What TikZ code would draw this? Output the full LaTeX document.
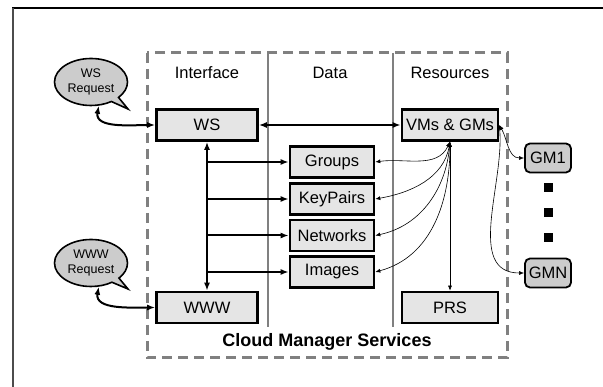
\documentclass[tikz,border=0pt]{standalone}
\usepackage{fontspec}
\setmainfont{Liberation Sans}
\usetikzlibrary{shapes.callouts,arrows.meta}

\begin{document}
\begin{tikzpicture}[x=1pt,y=1pt]
\tikzstyle{every node}+=[inner sep=0pt, font=\fontsize{16.5}{18}\selectfont]
\tikzstyle{svc}=[draw=black, line width=2.6pt, fill=black!10, minimum height=31pt]
\tikzstyle{gm}=[draw=black, line width=1.8pt, fill=black!20, rounded corners=5pt, minimum width=46pt, minimum height=29pt]
\tikzstyle{req}=[ellipse callout, draw=black, line width=1.6pt, fill=black!20, minimum width=73pt, minimum height=47pt, align=center, font=\fontsize{12.5}{15}\selectfont]
\tikzstyle{big link}=[line width=2pt, {Latex[length=8pt,width=6pt]}-{Latex[length=8pt,width=6pt]}]
\tikzstyle{bus link}=[line width=2pt, -{Latex[length=8pt,width=6pt]}]
\tikzstyle{thin link}=[line width=0.6pt, {Latex[length=5pt,width=4pt]}-{Latex[length=5pt,width=4pt]}]
\useasboundingbox (0,0) rectangle (603,-387);
% page frame
\draw [black, line width=1.2pt] (12,-8) -- (603,-8);
\draw [black!70, line width=1.2pt] (13,-8) -- (13,-387);
% services frame and columns
\draw [black!50, line width=3pt, dash pattern=on 10pt off 6pt] (147,-53) rectangle (507,-358);
\draw [black!50, line width=1.2pt] (268,-53) -- (268,-327);
\draw [black!50, line width=1.2pt] (393,-53) -- (393,-327);
\node (hif) at (207,-73) {Interface};
\node (hdata) at (330,-73) {Data};
\node (hres) at (450,-73) {Resources};
\node [font=\bfseries\fontsize{18}{20}\selectfont] (cms) at (327,-342) {Cloud Manager Services};
% interface
\node [svc, minimum width=101pt] (ws) at (207,-125) {WS};
\node [svc, minimum width=101pt] (www) at (207,-307.5) {WWW};
% data
\node [svc, minimum width=84pt] (grp) at (332,-162) {Groups};
\node [svc, minimum width=84pt] (key) at (332,-199) {KeyPairs};
\node [svc, minimum width=84pt] (net) at (332,-235.5) {Networks};
\node [svc, minimum width=84pt] (img) at (332,-272) {Images};
% resources
\node [svc, minimum width=96pt] (vms) at (450,-125) {VMs \& GMs};
\node [svc, minimum width=96pt] (prs) at (450,-307.5) {PRS};
\node [gm] (gm1) at (548,-158) {GM1};
\node [gm] (gmn) at (548,-273) {GMN};
\foreach \y in {188,213,238}
  \fill [black] (543.5,-\y+4.5) rectangle (552.5,-\y-4.5);
% requests
\node [req, callout absolute pointer={(128,-109)}] (wsreq) at (91,-82) {WS\\Request};
\node [req, callout absolute pointer={(128,-289)}] (wwwreq) at (91,-263) {WWW\\Request};
\draw [big link] (wsreq.-72) to[out=-100,in=180] (ws.west);
\draw [big link] (wwwreq.-72) to[out=-100,in=180] (www.west);
% links
\draw [big link, line width=2.6pt] (ws.east) -- (vms.west);
\draw [big link] (ws.south) -- (www.north);
\foreach \n in {grp,key,net,img}
  \draw [bus link] (ws.south |- \n.west) -- (\n.west);
\draw [thin link] (vms.south) to[out=-115,in=8] (grp.east);
\draw [thin link] (vms.south) to[out=-100,in=10] (key.east);
\draw [thin link] (vms.south) to[out=-95,in=12] (net.east);
\draw [thin link] (vms.south) to[out=-90,in=15] (img.east);
\draw [thin link] (vms.south) -- (prs.north);
\draw [thin link] (vms.east) to[out=-60,in=180] (gm1.west);
\draw [thin link] (vms.east) to[out=-85,in=180] (gmn.west);
\end{tikzpicture}
\end{document}
